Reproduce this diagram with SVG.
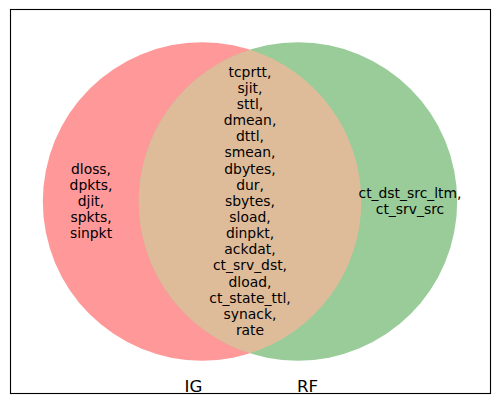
<svg xmlns="http://www.w3.org/2000/svg" width="500" height="405" viewBox="0 0 500 405">
<style>
  .t { font-family: "DejaVu Sans", "Liberation Sans", sans-serif; font-size: 13.9px; fill: #000; text-anchor: middle; }
  .lbl { font-family: "DejaVu Sans", "Liberation Sans", sans-serif; font-size: 16.67px; fill: #000; text-anchor: middle; }
</style>
<rect x="0" y="0" width="500" height="405" fill="#ffffff"/>
<g id="set-IG">
  <circle cx="202" cy="201.5" r="159.2" fill="#ff9999"/>
</g>
<g id="set-RF">
  <circle cx="298" cy="201.5" r="159.2" fill="#99cc99"/>
</g>
<g id="set-IG-RF">
  <path d="M250,49.7 A159.2,159.2 0 0 1 250,353.3 A159.2,159.2 0 0 1 250,49.7 Z" fill="#dfbc99"/>
</g>
<g id="connectors"></g>
<g id="text-IG-only">
  <text class="t" x="91" y="174">dloss,</text>
  <text class="t" x="91" y="190.1">dpkts,</text>
  <text class="t" x="91" y="206.2">djit,</text>
  <text class="t" x="91" y="222.3">spkts,</text>
  <text class="t" x="91" y="238.4">sinpkt</text>
</g>
<g id="text-both">
  <text class="t" x="250" y="76.7">tcprtt,</text>
  <text class="t" x="250" y="92.84">sjit,</text>
  <text class="t" x="250" y="108.98">sttl,</text>
  <text class="t" x="250" y="125.12">dmean,</text>
  <text class="t" x="250" y="141.26">dttl,</text>
  <text class="t" x="250" y="157.4">smean,</text>
  <text class="t" x="250" y="173.54">dbytes,</text>
  <text class="t" x="250" y="189.68">dur,</text>
  <text class="t" x="250" y="205.82">sbytes,</text>
  <text class="t" x="250" y="221.96">sload,</text>
  <text class="t" x="250" y="238.1">dinpkt,</text>
  <text class="t" x="250" y="254.24">ackdat,</text>
  <text class="t" x="250" y="270.38">ct_srv_dst,</text>
  <text class="t" x="250" y="286.52">dload,</text>
  <text class="t" x="250" y="302.66">ct_state_ttl,</text>
  <text class="t" x="250" y="318.8">synack,</text>
  <text class="t" x="250" y="334.94">rate</text>
</g>
<g id="text-RF-only">
  <text class="t" x="410" y="197.5">ct_dst_src_ltm,</text>
  <text class="t" x="410" y="213.6">ct_srv_src</text>
</g>
<g id="label-IG"><text class="lbl" x="193.5" y="391.7">IG</text></g>
<g id="label-RF"><text class="lbl" x="307.5" y="391.7">RF</text></g>
<rect x="10.5" y="9.5" width="480" height="384" fill="none" stroke="#000" stroke-width="1.1"/>
</svg>
